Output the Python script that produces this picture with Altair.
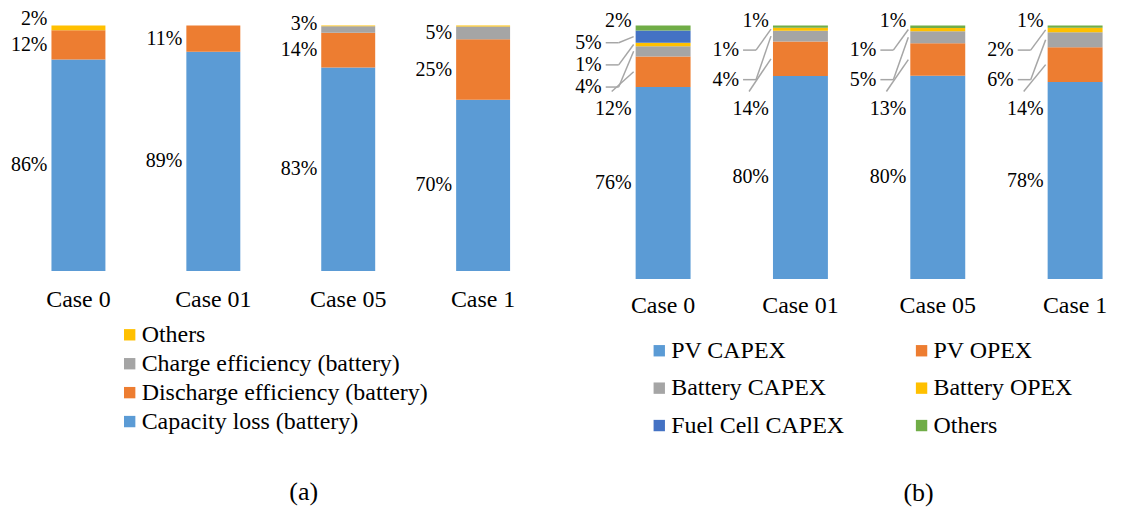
import altair as alt
import pandas as pd

# ---------------- data ----------------
cases = ["Case 0", "Case 01", "Case 05", "Case 1"]

# panel (a)
a_series = ["Capacity loss (battery)", "Discharge efficiency (battery)",
            "Charge efficiency (battery)", "Others"]
a_capacity = [86.2, 89.3, 82.9, 69.8]
a_discharge = [11.9, 10.7, 14.2, 24.6]
a_charge = [0.0, 0.0, 2.6, 5.2]
a_others = [1.9, 0.0, 0.3, 0.4]
a_colors = ["#5B9BD5", "#ED7D31", "#A5A5A5", "#FFC000"]

# panel (b)
b_series = ["PV CAPEX", "PV OPEX", "Battery CAPEX", "Battery OPEX",
            "Fuel Cell CAPEX", "Others"]
b_pv_capex = [75.8, 80.1, 80.2, 77.7]
b_pv_opex = [12.0, 13.6, 12.8, 13.8]
b_bat_capex = [4.1, 4.3, 4.8, 5.9]
b_bat_opex = [1.3, 1.2, 1.3, 1.8]
b_fc_capex = [4.9, 0.0, 0.0, 0.0]
b_others = [1.9, 0.8, 0.9, 0.8]
b_colors = ["#5B9BD5", "#ED7D31", "#A5A5A5", "#FFC000", "#4472C4", "#70AD47"]

# ---------------- layout / style ----------------
FONT = "Liberation Serif"
W_A, H_A = 541, 246
W_B, H_B = 542, 254
XMIN = -0.5
XMAX_A = 3.5
STEP_B = 137.7
XMAX_B = XMIN + W_B / STEP_B
PX_A = W_A / (XMAX_A - XMIN)
PX_B = STEP_B
BAR_HALF = 0.2
GRID = "#D9D9D9"
LEADER = "#A6A6A6"


def stack(series, cols):
    rows = []
    for i, case in enumerate(cases):
        base = 0.0
        for k, (name, vals) in enumerate(zip(series, cols)):
            v = vals[i]
            rows.append(dict(case=case, idx=i, series=name, k=k, value=v,
                             y0=base, y1=base + v, mid=base + v / 2,
                             x0=i - BAR_HALF, x1=i + BAR_HALF, bl=i - BAR_HALF,
                             label=f"{round(v)}%"))
            base += v
    return pd.DataFrame(rows)


a_df = stack(a_series, [a_capacity, a_discharge, a_charge, a_others])
b_df = stack(b_series, [b_pv_capex, b_pv_opex, b_bat_capex, b_bat_opex,
                        b_fc_capex, b_others])
case_df = pd.DataFrame({"case": cases, "idx": list(range(len(cases)))})

# label placement (a): bottom-up, push labels apart
GAP_A = 10.5
a_lab_rows = []
for i in range(len(cases)):
    sub = a_df[(a_df.idx == i) & (a_df.value.round() >= 1)].sort_values("k")
    prev = -1e9
    for _, r in sub.iterrows():
        ly = max(r.mid, prev + GAP_A)
        prev = ly
        d = r.to_dict()
        d["ly"] = ly
        a_lab_rows.append(d)
a_lab = pd.DataFrame(a_lab_rows)

# label placement (b): largest at middle, rest spread with leader lines
TOP_B, LOW_B = 102.0, 67.0
b_lab_rows, lead_rows = [], []
for i in range(len(cases)):
    sub = b_df[(b_df.idx == i) & (b_df.value.round() >= 1)].sort_values("k")
    recs = [r.to_dict() for _, r in sub.iterrows()]
    first, rest = recs[0], recs[1:]
    first["ly"] = first["mid"]
    first["far"] = False
    b_lab_rows.append(first)
    n = len(rest)
    for j, d in enumerate(rest):
        ly = LOW_B + (TOP_B - LOW_B) * j / max(n - 1, 1)
        d["ly"] = ly
        d["far"] = not (j == 0 or j == n - 1)
        b_lab_rows.append(d)
        bl = d["bl"]
        if d["far"]:
            lead_rows.append(dict(rx0=bl - 30 / PX_B, rx1=bl - 17 / PX_B, ry0=ly, ry1=ly))
            lead_rows.append(dict(rx0=bl - 17 / PX_B, rx1=bl - 2 / PX_B, ry0=ly, ry1=d["mid"]))
        elif j == 0:
            lead_rows.append(dict(rx0=bl - 24 / PX_B, rx1=bl - 2 / PX_B, ry0=ly + 7, ry1=d["mid"]))
b_lab = pd.DataFrame(b_lab_rows)
b_near = b_lab[~b_lab.far]
b_far = b_lab[b_lab.far]
leads = pd.DataFrame(lead_rows)


def x_enc(field, xmax):
    return alt.X(field, type="quantitative",
                 scale=alt.Scale(domain=[XMIN, xmax], nice=False, zero=False),
                 axis=None)


def y_enc(field, ticks, with_axis):
    axis = alt.Axis(values=ticks, labels=False, ticks=False, domain=False, grid=True,
                    gridColor=GRID, gridWidth=1.6, title=None) if with_axis else None
    return alt.Y(field, type="quantitative",
                 scale=alt.Scale(domain=[0, 100], nice=False, zero=True), axis=axis)


def case_labels(xmax, gap):
    # category names under the bars
    return alt.Chart(case_df).mark_text(baseline="middle", font=FONT, fontSize=24,
                                        color="black").encode(
        x=x_enc("idx", xmax), y=alt.value(gap), text="case:N")


# ---------------- panel (a) ----------------
a_legend_order = list(reversed(a_series))
a_color_range = list(reversed(a_colors))
bars_a = alt.Chart(a_df).mark_rect().encode(
    x=x_enc("x0", XMAX_A), x2="x1:Q",
    y=y_enc("y0", [0, 50, 100], True), y2="y1:Q",
    color=alt.Color("series:N",
                    scale=alt.Scale(domain=a_legend_order, range=a_color_range),
                    legend=alt.Legend(orient="none", legendX=107, legendY=298, title=None,
                                      symbolType="square", symbolSize=130,
                                      symbolStrokeWidth=0, labelFont=FONT,
                                      labelFontSize=24, labelColor="black",
                                      labelLimit=600, rowPadding=5, labelOffset=0,
                                      padding=0)),
)
text_a = alt.Chart(a_lab).mark_text(align="right", baseline="middle", dx=-4,
                                    font=FONT, fontSize=20, color="black").encode(
    x=x_enc("bl", XMAX_A), y=y_enc("ly", None, False), text="label:N")

left = alt.layer(bars_a, text_a, case_labels(XMAX_A, H_A + 29)).properties(
    width=W_A, height=H_A,
    title=alt.TitleParams("(a)", orient="bottom", frame="group", anchor="middle",
                          dx=23, offset=46, font=FONT, fontSize=26,
                          fontWeight="normal", color="black"))

# ---------------- panel (b) ----------------
# legend fills column by column: order entries so rows read as in the source
b_legend_order = [b_series[0], b_series[2], b_series[4],
                  b_series[1], b_series[3], b_series[5]]
b_legend_range = [b_colors[0], b_colors[2], b_colors[4],
                  b_colors[1], b_colors[3], b_colors[5]]
bars_b = alt.Chart(b_df).mark_rect().encode(
    x=x_enc("x0", XMAX_B), x2="x1:Q",
    y=y_enc("y0", [0, 20, 40, 60, 80, 100], True), y2="y1:Q",
    color=alt.Color("series:N",
                    scale=alt.Scale(domain=b_legend_order, range=b_legend_range),
                    legend=alt.Legend(orient="none", legendX=53, legendY=314, title=None,
                                      columns=2, columnPadding=65, rowPadding=13.5,
                                      symbolType="square", symbolSize=130,
                                      symbolStrokeWidth=0, labelFont=FONT,
                                      labelFontSize=24, labelColor="black",
                                      labelLimit=600, labelOffset=0, padding=0)),
)
lead_b = alt.Chart(leads).mark_rule(color=LEADER, strokeWidth=1.5).encode(
    x=x_enc("rx0", XMAX_B), x2="rx1:Q",
    y=y_enc("ry0", None, False), y2="ry1:Q")
text_b_near = alt.Chart(b_near).mark_text(align="right", baseline="middle", dx=-4,
                                          font=FONT, fontSize=20, color="black").encode(
    x=x_enc("bl", XMAX_B), y=y_enc("ly", None, False), text="label:N")
text_b_far = alt.Chart(b_far).mark_text(align="right", baseline="middle", dx=-34,
                                        font=FONT, fontSize=20, color="black").encode(
    x=x_enc("bl", XMAX_B), y=y_enc("ly", None, False), text="label:N")

right = alt.layer(bars_b, lead_b, text_b_near, text_b_far,
                  case_labels(XMAX_B, H_B + 27)).properties(
    width=W_B, height=H_B,
    title=alt.TitleParams("(b)", orient="bottom", frame="group", anchor="middle",
                          dx=54, offset=43, font=FONT, fontSize=26,
                          fontWeight="normal", color="black"))

chart = alt.hconcat(left, right, spacing=44, bounds="flush").resolve_scale(
    color="independent", x="independent", y="independent"
).configure_view(stroke=None).properties(
    padding={"left": 2, "top": 0, "right": 0, "bottom": 0}, background="white")

chart.save("out.html", embed_options={"renderer": "svg", "actions": False})
